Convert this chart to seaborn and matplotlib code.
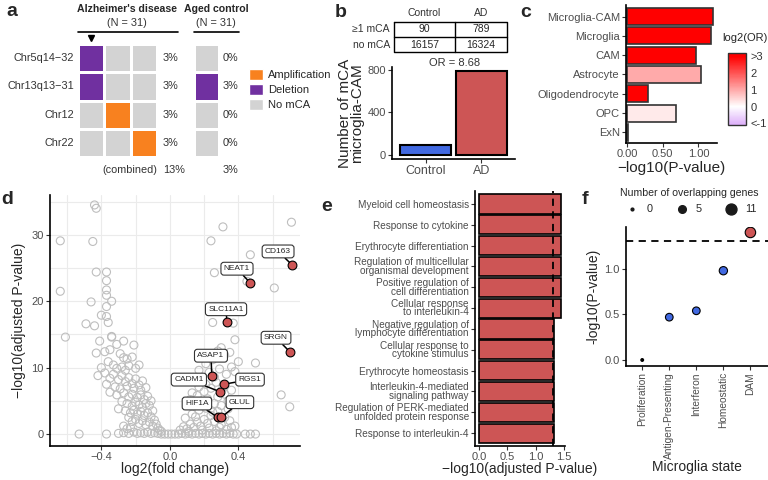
import numpy as np
import pandas as pd
import matplotlib
matplotlib.use("Agg")
import matplotlib.pyplot as plt
import seaborn as sns
from matplotlib.colors import ListedColormap, LinearSegmentedColormap, Normalize
from matplotlib.patches import Patch
from matplotlib.lines import Line2D
from matplotlib.cm import ScalarMappable

# ---- panel a: mCA calls per sample
chroms = ["Chr5q14−32", "Chr13q13−31", "Chr12", "Chr22"]
ad_calls = [["Deletion", "No mCA", "No mCA"],
            ["Deletion", "No mCA", "No mCA"],
            ["No mCA", "Amplification", "No mCA"],
            ["No mCA", "No mCA", "Amplification"]]
ctrl_calls = [["No mCA"], ["Deletion"], ["No mCA"], ["No mCA"]]
ad_pct = ["3%", "3%", "3%", "3%"]
ctrl_pct = ["0%", "3%", "0%", "0%"]
ad_combined = "13%"
ctrl_combined = "3%"
call_types = ["Amplification", "Deletion", "No mCA"]

# ---- panel b: microglia-CAM with mCA
groups = ["Control", "AD"]
table_rows = ["≥1 mCA", "no mCA"]
with_mca = [90, 789]
no_mca = [16157, 16324]

# ---- panel c: enrichment per cell type
cell_types = ["Microglia-CAM", "Microglia", "CAM", "Astrocyte",
              "Oligodendrocyte", "OPC", "ExN"]
celltype_logp = [1.21, 1.17, 0.97, 1.04, 0.30, 0.69, 0.01]
celltype_log2or = [3.12, 3.05, 3.0, 1.0, 3.3, 0.25, 0.0]

# ---- panel d: volcano (log2FC, -log10 padj)
volcano_outer = [(-0.44, 34.5), (-0.43, 34.0), (-0.64, 29.1), (-0.45, 29.0), (0.24, 29.1),
                 (0.31, 31.2), (0.71, 31.9), (0.47, 27.0), (-0.43, 24.4), (-0.37, 24.4),
                 (-0.37, 23.1), (-0.64, 21.5), (-0.46, 19.9), (-0.37, 21.7), (-0.37, 20.9),
                 (-0.34, 20.0), (-0.37, 19.2), (-0.40, 17.9), (-0.37, 17.7), (-0.36, 16.8),
                 (-0.49, 16.6), (-0.44, 16.3), (-0.61, 14.6), (-0.34, 14.6), (0.26, 24.3),
                 (0.45, 23.0), (0.61, 22.0), (0.25, 16.8), (0.37, 16.7), (0.38, 14.2),
                 (0.50, 10.7), (0.65, 5.9), (0.70, 4.1), (-0.53, 0.0), (-0.37, 0.0),
                 (0.39, 0.0), (0.44, 0.0), (0.47, 0.0), (0.50, 0.0)]
volcano_left = [(-0.41, 14.0), (-0.34, 14.7), (-0.31, 13.5), (-0.27, 14.0), (-0.21, 13.4),
                (-0.43, 12.2), (-0.38, 12.4), (-0.35, 12.7), (-0.29, 12.1), (-0.27, 11.5),
                (-0.25, 11.3), (-0.22, 11.6), (-0.40, 10.0), (-0.36, 10.9), (-0.33, 10.4),
                (-0.31, 9.9), (-0.28, 10.1), (-0.26, 9.6), (-0.24, 10.3), (-0.20, 9.9),
                (-0.18, 10.4), (-0.42, 8.8), (-0.38, 9.2), (-0.35, 8.4), (-0.33, 9.0),
                (-0.30, 8.2), (-0.28, 8.8), (-0.26, 7.9), (-0.24, 8.5), (-0.22, 7.6),
                (-0.20, 8.3), (-0.18, 7.4), (-0.16, 8.0), (-0.37, 7.5), (-0.32, 7.1),
                (-0.29, 6.8), (-0.25, 7.2), (-0.21, 6.9), (-0.17, 6.6), (-0.14, 7.0),
                (-0.35, 6.3), (-0.31, 5.9), (-0.27, 6.2), (-0.24, 5.6), (-0.22, 6.0),
                (-0.19, 5.5), (-0.17, 5.9), (-0.15, 5.2), (-0.13, 5.7), (-0.28, 4.9),
                (-0.25, 4.6), (-0.22, 4.2), (-0.20, 4.8), (-0.18, 4.4), (-0.16, 4.0),
                (-0.14, 4.6), (-0.12, 4.3), (-0.11, 5.0), (-0.30, 3.8), (-0.26, 3.5),
                (-0.23, 3.2), (-0.21, 3.6), (-0.19, 3.0), (-0.17, 3.4), (-0.15, 2.8),
                (-0.13, 3.2), (-0.11, 2.6), (-0.10, 3.5), (-0.24, 2.5), (-0.22, 1.9),
                (-0.20, 2.2), (-0.18, 1.6), (-0.16, 2.0), (-0.14, 1.4), (-0.12, 1.8),
                (-0.10, 1.2), (-0.09, 2.1), (-0.08, 1.5), (-0.07, 0.9), (-0.27, 1.2),
                (-0.25, 0.8), (-0.23, 1.0), (-0.06, 0.6), (-0.05, 0.4)]
volcano_base = [(-0.30, 0.1), (-0.27, 0.2), (-0.24, 0.1), (-0.21, 0.3), (-0.19, 0.1),
                (-0.17, 0.2), (-0.15, 0.1), (-0.13, 0.3), (-0.11, 0.1), (-0.09, 0.2),
                (-0.07, 0.1), (-0.05, 0.0), (-0.03, 0.0), (-0.01, 0.0), (0.01, 0.0),
                (0.03, 0.0), (0.05, 0.0), (0.07, 0.1), (0.09, 0.0), (0.11, 0.1),
                (0.13, 0.0), (0.15, 0.1), (0.17, 0.0), (0.19, 0.1), (0.21, 0.0),
                (0.23, 0.1), (0.25, 0.0), (0.27, 0.1), (0.29, 0.0), (0.31, 0.1),
                (0.33, 0.0), (0.35, 0.1), (0.37, 0.0)]
volcano_right = [(0.06, 0.6), (0.08, 1.1), (0.10, 0.8), (0.12, 1.5), (0.14, 1.0),
                 (0.16, 1.8), (0.18, 1.2), (0.20, 2.2), (0.22, 1.6), (0.24, 2.8),
                 (0.26, 1.9), (0.28, 3.4), (0.30, 1.4), (0.32, 2.5), (0.34, 3.8),
                 (0.36, 1.0), (0.09, 2.4), (0.13, 3.0), (0.17, 3.6), (0.21, 3.9),
                 (0.25, 3.3), (0.29, 1.0), (0.33, 0.7), (0.11, 0.4), (0.19, 0.6),
                 (0.27, 0.5), (0.35, 2.0), (0.38, 1.2), (0.23, 0.9), (0.15, 2.6),
                 (0.10, 4.4), (0.12, 5.2), (0.14, 4.6), (0.16, 5.8), (0.18, 4.9),
                 (0.20, 6.4), (0.22, 5.3), (0.24, 6.9), (0.26, 4.6), (0.28, 5.6),
                 (0.30, 4.3), (0.32, 6.0), (0.34, 5.0), (0.36, 6.6), (0.13, 6.2),
                 (0.17, 7.1), (0.21, 7.5), (0.27, 7.8), (0.31, 7.0), (0.37, 4.7),
                 (0.19, 8.4), (0.23, 9.3), (0.26, 8.6), (0.29, 9.8), (0.33, 9.0),
                 (0.36, 10.1), (0.21, 10.6), (0.25, 11.2), (0.28, 12.5), (0.32, 11.9),
                 (0.38, 9.4), (0.40, 10.9), (0.17, 9.6), (0.30, 13.0), (0.35, 12.3)]
hit_genes = ["CD163", "NEAT1", "SLC11A1", "SRGN", "ASAP1", "RGS1", "CADM1", "HIF1A", "GLUL"]
hit_lfc = [0.713, 0.468, 0.333, 0.70, 0.245, 0.315, 0.29, 0.28, 0.30]
hit_logp = [25.5, 22.8, 16.9, 12.4, 8.8, 7.5, 6.4, 2.5, 2.5]

# ---- panel e: GO terms
go_terms = ["Myeloid cell homeostasis", "Response to cytokine",
            "Erythrocyte differentiation",
            "Regulation of multicellular\norganismal development",
            "Positive regulation of\ncell differentiation",
            "Cellular response\nto interleukin-4",
            "Negative regulation of\nlymphocyte differentiation",
            "Cellular response to\ncytokine stimulus", "Erythrocyte homeostasis",
            "Interleukin-4-mediated\nsignaling pathway",
            "Regulation of PERK-mediated\nunfolded protein response",
            "Response to interleukin-4"]
go_logp = [1.45, 1.45, 1.45, 1.45, 1.45, 1.45, 1.33, 1.33, 1.33, 1.33, 1.33, 1.33]

# ---- panel f: microglia states
states = ["Proliferation", "Antigen-Presenting", "Interferon", "Homeostatic", "DAM"]
state_logp = [0.0, 0.47, 0.54, 0.98, 1.40]
state_overlap = [0, 5, 5, 6, 10]

SIG = -np.log10(0.05)

# colours
C_AMP, C_DEL, C_NO = "#F8811F", "#7030A0", "#D3D3D3"
C_RED, C_BLUE = "#CD5555", "#4169E1"
TICK = "#4D4D4D"

sns.set_style("white")
plt.rcParams["font.family"] = ["Liberation Sans", "DejaVu Sans"]

W, H = 768, 480
fig = plt.figure(figsize=(W / 100, H / 100), dpi=100)


def px_axes(left, top, right, bottom):
    return fig.add_axes([left / W, 1 - bottom / H, (right - left) / W, (bottom - top) / H])


def gg_axes(ax):
    sns.despine(ax=ax)
    for s in ("left", "bottom"):
        ax.spines[s].set_linewidth(1.2)
        ax.spines[s].set_color("black")
    ax.tick_params(length=3, width=0.8, color="#333333", labelcolor=TICK,
                   labelsize=8, pad=1.5, left=True, bottom=True)


# overlay in pixel coordinates for titles, table and panel letters
ov = fig.add_axes([0, 0, 1, 1], zorder=10)
ov.set_xlim(0, W)
ov.set_ylim(H, 0)
ov.axis("off")
ov.patch.set_alpha(0)

for letter, (lx, ly) in zip("abcdef", [(12, 16), (341, 17), (526, 17),
                                       (7, 204), (327, 211), (585, 204)]):
    ov.text(lx, ly, letter, fontsize=14, fontweight="bold", ha="center", va="baseline")

# ================= a =================
code = {"No mCA": 0, "Amplification": 1, "Deletion": 2}
cmap_a = ListedColormap([C_NO, C_AMP, C_DEL])
ad_mat = pd.DataFrame([[code[c] for c in r] for r in ad_calls], index=chroms)
ctrl_mat = pd.DataFrame([[code[c] for c in r] for r in ctrl_calls], index=chroms)

ax_a = px_axes(78, 44, 157, 157)
sns.heatmap(ad_mat, cmap=cmap_a, vmin=0, vmax=2, cbar=False, linewidths=2,
            linecolor="white", xticklabels=False, yticklabels=chroms, ax=ax_a)
ax_a.tick_params(length=0, labelsize=7.8, labelcolor="#333333", pad=3)
ax_a.set_yticklabels(chroms, rotation=0)
ax_a.set_ylabel("")
for i, p in enumerate(ad_pct):
    ax_a.text(3.23, i + 0.5, p, ha="left", va="center", fontsize=7.8, color="#333333")
ax_a.text(3.02, 4.45, "(combined)", ha="right", va="center", fontsize=7.8, color="#333333")
ax_a.text(3.23, 4.45, ad_combined, ha="left", va="center", fontsize=7.8, color="#333333")
ax_a.plot(0.5, -0.22, marker="v", color="black", ms=5, clip_on=False)

ax_a2 = px_axes(194, 44, 219, 157)
sns.heatmap(ctrl_mat, cmap=cmap_a, vmin=0, vmax=2, cbar=False, linewidths=2,
            linecolor="white", xticklabels=False, yticklabels=False, ax=ax_a2)
ax_a2.tick_params(length=0)
for i, p in enumerate(ctrl_pct):
    ax_a2.text(1.16, i + 0.5, p, ha="left", va="center", fontsize=7.8, color="#333333")
ax_a2.text(1.16, 4.45, ctrl_combined, ha="left", va="center", fontsize=7.8, color="#333333")

ov.text(127, 9, "Alzheimer's disease", ha="center", va="center", fontsize=7.6, fontweight="bold")
ov.text(127, 23, "(N = 31)", ha="center", va="center", fontsize=7.8, color="#333333")
ov.plot([78, 178], [32, 32], color="black", lw=1.2)
ov.text(216, 9, "Aged control", ha="center", va="center", fontsize=7.6, fontweight="bold")
ov.text(216, 23, "(N = 31)", ha="center", va="center", fontsize=7.8, color="#333333")
ov.plot([194, 239], [32, 32], color="black", lw=1.2)

fig.legend(handles=[Patch(facecolor=c, label=t) for c, t in zip([C_AMP, C_DEL, C_NO], call_types)],
           loc="upper left", bbox_to_anchor=(249 / W, 1 - 69 / H), frameon=False,
           fontsize=8, handlelength=1.3, handleheight=1.1, handletextpad=0.4,
           labelspacing=0.35, borderaxespad=0, borderpad=0)

# ================= b =================
tx0, tx1, tx2 = 394, 455, 507
ty0, ty1, ty2 = 22, 37, 52
ov.plot([tx0, tx2, tx2, tx0, tx0], [ty0, ty0, ty2, ty2, ty0], color="black", lw=1)
ov.plot([tx0, tx2], [ty1, ty1], color="black", lw=1)
ov.plot([tx1, tx1], [ty0, ty2], color="black", lw=1)
col_x = [(tx0 + tx1) / 2, (tx1 + tx2) / 2]
row_y = [(ty0 + ty1) / 2, (ty1 + ty2) / 2]
for j, g in enumerate(groups):
    ov.text(col_x[j], 13, g, ha="center", va="center", fontsize=7.5, color="#333333")
for i, (lab, vals) in enumerate(zip(table_rows, [with_mca, no_mca])):
    ov.text(tx0 - 4, row_y[i], lab, ha="right", va="center", fontsize=7.5, color="#333333")
    for j, v in enumerate(vals):
        ov.text(col_x[j], row_y[i], str(v), ha="center", va="center", fontsize=7.5)
odds = (with_mca[1] / no_mca[1]) / (with_mca[0] / no_mca[0])
ov.text(455, 63, f"OR = {odds:.2f}", ha="center", va="center", fontsize=8, color="#333333")

ax_b = px_axes(392, 67, 515, 159)
sns.barplot(x=groups, y=with_mca, hue=groups, palette=[C_BLUE, C_RED], saturation=1,
            legend=False, edgecolor="black", linewidth=1.5, width=0.92, ax=ax_b)
gg_axes(ax_b)
ax_b.set_xlim(-0.6, 1.6)
ax_b.set_ylim(-39, 828)
ax_b.set_yticks([0, 400, 800])
ax_b.tick_params(axis="x", labelsize=9)
ax_b.set_ylabel("Number of mCA\nmicroglia-CAM", fontsize=11, linespacing=0.85, labelpad=2)

# ================= c =================
cmap_c = LinearSegmentedColormap.from_list("gg2", ["#A020F0", "white", "#FF0000"])
norm_c = Normalize(-3, 3)
ax_c = px_axes(626, 5, 717, 143)
sns.barplot(x=celltype_logp, y=cell_types, hue=cell_types,
            palette=[cmap_c(norm_c(v)) for v in celltype_log2or], saturation=1,
            legend=False, orient="h", edgecolor="#333333", linewidth=1.2, width=0.88, ax=ax_c)
gg_axes(ax_c)
ax_c.set_xlim(-0.014, 1.26)
ax_c.set_ylim(6.55, -0.6)
ax_c.set_xticks([0, 0.5, 1.0])
ax_c.set_xticklabels(["0.00", "0.50", "1.00"])
ax_c.set_xlabel("−log10(P-value)", fontsize=11, labelpad=1)

cax = px_axes(728, 53, 746, 125)
cb = fig.colorbar(ScalarMappable(norm=norm_c, cmap=cmap_c), cax=cax,
                  boundaries=np.linspace(-1.1, 3.2, 200), ticks=[-1, 0, 1, 2, 3])
cb.ax.set_yticklabels(["<-1", "0", "1", "2", ">3"])
cb.ax.tick_params(length=0, labelsize=8, labelcolor="#333333", pad=3)
cb.outline.set_edgecolor("#333333")
cb.outline.set_linewidth(1.0)
ov.text(722, 38, "log2(OR)", ha="left", va="center", fontsize=8)

# ================= d =================
volcano = pd.DataFrame(volcano_outer + volcano_left + volcano_base + volcano_right,
                       columns=["lfc", "logp"])
label_xy = [(0.632, 27.5), (0.392, 24.9), (0.328, 18.8), (0.620, 14.5), (0.240, 11.8),
            (0.468, 8.2), (0.111, 8.2), (0.158, 4.6), (0.409, 4.8)]
ax_d = px_axes(50, 195, 300, 446)
sns.scatterplot(data=volcano, x="lfc", y="logp", s=33, color="#BEBEBE",
                facecolor="none", edgecolor="#BEBEBE", linewidth=0.8, zorder=2, ax=ax_d)
for g, xx, yy, (lx, ly) in zip(hit_genes, hit_lfc, hit_logp, label_xy):
    ax_d.annotate(g, (xx, yy), xytext=(lx, ly), ha="center", va="center", fontsize=6,
                  bbox=dict(boxstyle="round,pad=0.35", fc="white", ec="#333333", lw=0.8),
                  arrowprops=dict(arrowstyle="-", color="black", lw=1.1, shrinkA=0, shrinkB=2),
                  zorder=5)
sns.scatterplot(x=hit_lfc, y=hit_logp, s=40, color=C_RED, edgecolor="black",
                linewidth=0.8, zorder=6, ax=ax_d)
gg_axes(ax_d)
ax_d.set_xlim(-0.70, 0.76)
ax_d.set_ylim(-1.8, 36)
ax_d.set_xticks([-0.4, 0.0, 0.4])
ax_d.set_xticks([-0.6, -0.2, 0.2, 0.6], minor=True)
ax_d.set_yticks([0, 10, 20, 30])
ax_d.set_yticks([5, 15, 25, 35], minor=True)
ax_d.tick_params(which="minor", length=0)
ax_d.grid(True, which="both", color="#EBEBEB", lw=0.8)
ax_d.set_axisbelow(True)
ax_d.set_xlabel("log2(fold change)", fontsize=10, labelpad=0)
ax_d.set_ylabel("−log10(adjusted P-value)", fontsize=10, labelpad=4)

# ================= e =================
ax_e = px_axes(475, 191, 565, 446)
sns.barplot(x=go_logp, y=go_terms, color=C_RED, saturation=1, orient="h",
            edgecolor="black", linewidth=1.2, width=0.92, ax=ax_e)
ax_e.axvline(SIG, color="black", ls=(0, (4, 3)), lw=1.3, zorder=5)
gg_axes(ax_e)
ax_e.set_xlim(-0.07, 1.52)
ax_e.set_ylim(11.62, -0.62)
ax_e.set_xticks([0, 0.5, 1.0, 1.5])
ax_e.tick_params(axis="y", labelsize=7.2)
for lbl in ax_e.get_yticklabels():
    lbl.set_linespacing(0.8)
ax_e.set_xlabel("−log10(adjusted P-value)", fontsize=10, labelpad=0)

# ================= f =================
state_df = pd.DataFrame({"state": states, "logp": state_logp, "overlap": state_overlap})
state_df["grp"] = np.where(state_df["overlap"] == 0, "none",
                           np.where(state_df["logp"] > SIG, "sig", "ns"))
ax_f = px_axes(626, 227, 768, 366)
sns.scatterplot(data=state_df, x="state", y="logp", size="overlap", sizes=(4, 62),
                size_norm=(0, 11), hue="grp",
                palette={"none": "black", "sig": C_RED, "ns": C_BLUE},
                edgecolor="black", linewidth=0.8, legend=False, zorder=4, ax=ax_f)
ax_f.axhline(SIG, color="black", ls=(0, (4, 3)), lw=1.3)
gg_axes(ax_f)
ax_f.set_xlim(-0.6, 4.65)
ax_f.set_ylim(-0.066, 1.46)
ax_f.set_yticks([0, 0.5, 1.0])
ax_f.tick_params(axis="x", rotation=90, labelsize=7.3)
ax_f.set_xlabel("Microglia state", fontsize=10, labelpad=1)
ax_f.set_ylabel("-log10(P-value)", fontsize=10, labelpad=3)

size_s = [4 + n / 11 * 58 for n in (0, 5, 11)]
fig.legend(handles=[Line2D([], [], ls="", marker="o", color="#1A1A1A", ms=np.sqrt(s))
                    for s in size_s],
           labels=["0", "5", "11"], title="Number of overlapping genes", ncol=3,
           loc="upper left", bbox_to_anchor=(620 / W, 1 - 188 / H), frameon=False,
           fontsize=7.8, title_fontsize=7.6, handletextpad=0.3, columnspacing=1.7,
           labelspacing=0.6, borderaxespad=0, borderpad=0)

fig.savefig("out.png", dpi=100)
